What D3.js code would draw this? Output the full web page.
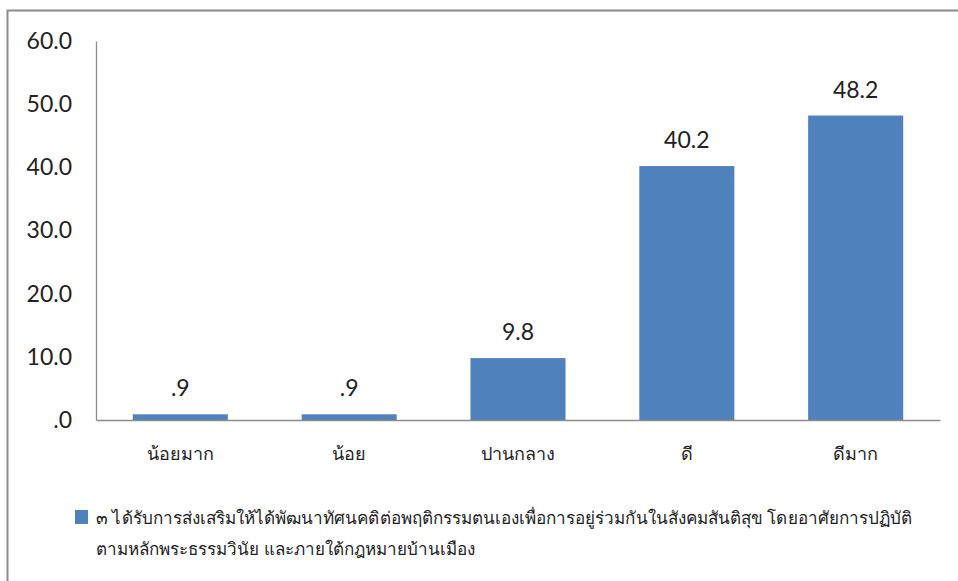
<!DOCTYPE html>
<html><head><meta charset="utf-8">
<script src="https://cdn.jsdelivr.net/npm/d3@7"></script>
<style>body{margin:0;background:#fff}svg{display:block}</style>
</head><body>
<script>
const categories = ["น้อยมาก","น้อย","ปานกลาง","ดี","ดีมาก"];
const values = [0.9, 0.9, 9.8, 40.2, 48.2];
const valueLabels = [".9", ".9", "9.8", "40.2", "48.2"];
const yTicks = [0, 10, 20, 30, 40, 50, 60];
const legendLines = ["๓ ได้รับการส่งเสริมให้ได้พัฒนาทัศนคติต่อพฤติกรรมตนเองเพื่อการอยู่ร่วมกันในสังคมสันติสุข โดยอาศัยการปฏิบัติ","ตามหลักพระธรรมวินัย และภายใต้กฎหมายบ้านเมือง"];

const W = 958, H = 581;
const svg = d3.select("body").append("svg").attr("width", W).attr("height", H);
svg.append("rect").attr("x",0).attr("y",0).attr("width",W).attr("height",H).attr("fill","#fff");
// chart border
svg.append("path").attr("d","M7.5,"+(H+5)+" V10.5 H"+(W+5)).attr("fill","none").attr("stroke","#8c8c8c").attr("stroke-width",2);

const pLeft = 96, pRight = 940, pTop = 41, pBottom = 420;
const x = d3.scaleBand().domain(categories).range([pLeft, pRight]).paddingInner(0.437).paddingOuter(0.218);
const y = d3.scaleLinear().domain([0, 60]).range([pBottom, pTop]);

const numFont = "Lato, 'Open Sans', sans-serif";
const thaiFont = "'Noto Sans', 'DejaVu Sans', sans-serif";

// y axis
const yAxis = d3.axisLeft(y).tickValues(yTicks).tickSize(0).tickPadding(24)
  .tickFormat(d => d === 0 ? ".0" : d3.format(".1f")(d));
const gy = svg.append("g").attr("transform", `translate(${pLeft},0)`).call(yAxis);
gy.select(".domain").attr("stroke","#8c8c8c").attr("stroke-width",1.3);
gy.selectAll("text").attr("font-family", numFont).attr("font-size", 23).attr("fill","#222");

// bars
svg.append("g").selectAll("rect").data(values).join("rect")
  .attr("x",(d,i)=>x(categories[i]))
  .attr("y",d=>y(d))
  .attr("width",x.bandwidth())
  .attr("height",d=>pBottom - y(d))
  .attr("fill","#4F81BD");

// x axis
const xAxis = d3.axisBottom(x).tickSize(0).tickPadding(27);
const gx = svg.append("g").attr("transform",`translate(0,${pBottom})`).call(xAxis);
gx.select(".domain").attr("stroke","#8c8c8c").attr("stroke-width",1.3);
gx.selectAll("text").attr("font-family", thaiFont).attr("font-size", 18).attr("fill","#222");

// value labels
svg.append("g").selectAll("text").data(values).join("text")
  .attr("x",(d,i)=>x(categories[i]) + x.bandwidth()/2)
  .attr("y",d=>y(d) - 18)
  .attr("text-anchor","middle")
  .attr("font-family", numFont).attr("font-size", 23).attr("fill","#222")
  .text((d,i)=>valueLabels[i]);

// legend
svg.append("rect").attr("x",75).attr("y",510).attr("width",13).attr("height",14).attr("fill","#4F81BD");
const legendWidths = [816, 379];
svg.append("g").selectAll("text").data(legendLines).join("text")
  .attr("x",96)
  .attr("y",(d,i)=>524 + i*31)
  .attr("font-family", thaiFont).attr("font-size", 17).attr("fill","#222")
  .attr("textLength",(d,i)=>legendWidths[i]).attr("lengthAdjust","spacingAndGlyphs")
  .text(d=>d);
</script>
</body></html>
